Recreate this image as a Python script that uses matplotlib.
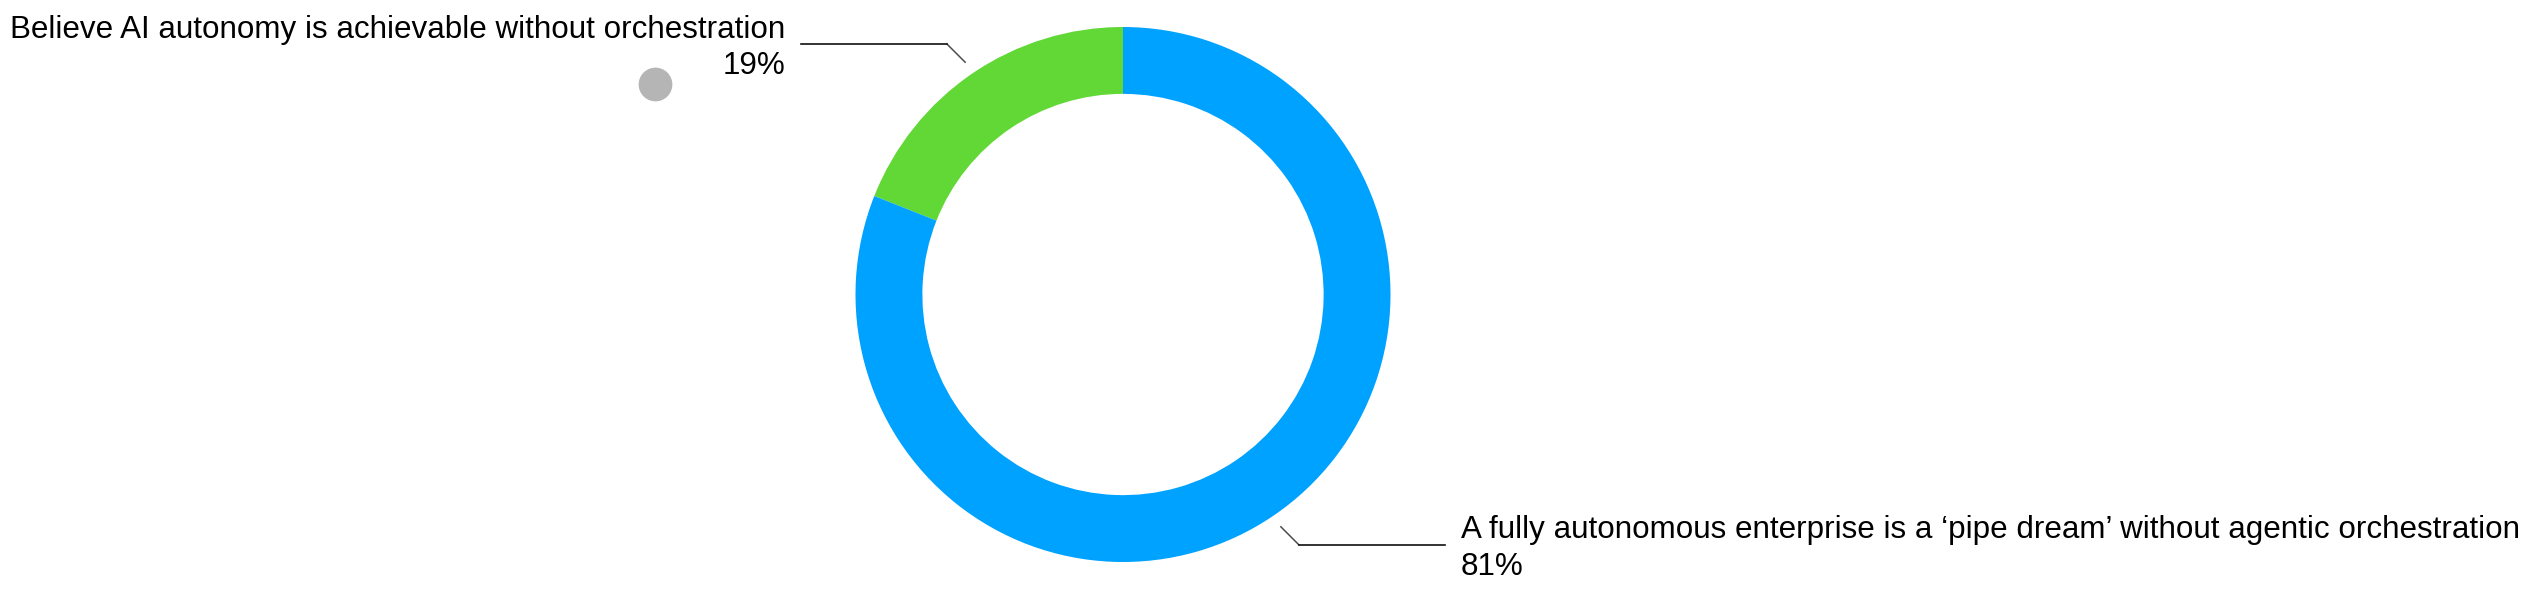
import numpy as np
import matplotlib.pyplot as plt

labels = ['Believe AI autonomy is achievable without orchestration',
          'A fully autonomous enterprise is a \u2018pipe dream\u2019 without agentic orchestration']
values = [19, 81]
colors = ['#61D836', '#00A2FF']

W, H = 2537, 595
plt.rcParams['font.family'] = ['Liberation Sans', 'DejaVu Sans']

fig = plt.figure(figsize=(W / 100, H / 100), dpi=100)
ax = fig.add_axes([0, 0, 1, 1])

cx, cy, R = 1123, 300.5, 267.5
wedges, _ = ax.pie(values, colors=colors, startangle=90, counterclock=True,
                   radius=R, center=(cx, cy), frame=True,
                   wedgeprops=dict(width=R * 0.25, linewidth=0))
ax.set_xlim(0, W)
ax.set_ylim(0, H)
ax.set_aspect('equal')
ax.axis('off')

fs = 22.6
for i, w in enumerate(wedges):
    ang = np.deg2rad((w.theta1 + w.theta2) / 2)
    x0, y0 = cx + 1.05 * R * np.cos(ang), cy + 1.05 * R * np.sin(ang)
    side = np.sign(np.cos(ang))
    x1, y1 = x0 + side * 18, y0 + np.sign(np.sin(ang)) * 18
    x2 = x1 + side * 146
    ax.plot([x0, x1], [y0, y1], color='#4d4d4d', lw=1.1)
    ax.plot([x1, x2], [y1, y1], color='#111111', lw=1.2)
    tx = x2 + side * 16
    ha = 'left' if side > 0 else 'right'
    ax.text(tx, y1 + 6.5, labels[i], ha=ha, va='baseline', fontsize=fs, color='black')
    ax.text(tx, y1 - 30, f'{values[i]}%', ha=ha, va='baseline', fontsize=fs, color='black')
    if side < 0:
        # grey dot next to the percentage
        ax.scatter([tx - 130], [y1 - 40], s=np.pi * 19 ** 2 * 0.52, color='#B5B5B5', lw=0)

fig.savefig('out.png', dpi=100)
